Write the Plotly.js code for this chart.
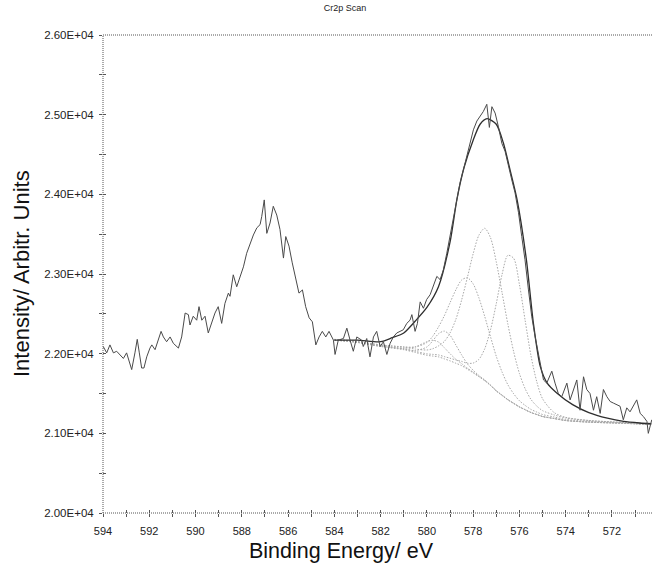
<!DOCTYPE html>
<html>
<head>
<meta charset="utf-8">
<script src="https://cdn.plot.ly/plotly-3.0.1.min.js"></script>
<style>html,body{margin:0;padding:0;background:#fff;}#chart{width:652px;height:567px;}</style>
</head>
<body>
<div id="chart"></div>
<script>
// Raw Cr2p spectrum (binding energy eV, counts)
const rawE = [593.99,593.84,593.70,593.55,593.41,593.27,593.12,592.98,592.83,592.76,592.62,592.52,592.43,592.33,592.23,592.11,591.97,591.89,591.75,591.61,591.49,591.39,591.25,591.10,590.96,590.74,590.60,590.45,590.31,590.24,590.10,589.95,589.85,589.73,589.59,589.45,589.30,589.16,589.02,
588.87,588.73,588.58,588.51,588.37,588.22,588.08,587.93,587.79,587.64,587.50,587.35,587.21,587.14,587.03,586.92,586.78,586.64,586.49,586.35,586.20,586.10,585.96,585.82,585.67,585.53,585.38,585.24,585.09,584.95,584.80,584.66,584.52,584.37,584.23,584.04,
583.97,583.83,583.61,583.46,583.32,583.18,583.03,582.82,582.75,582.60,582.46,582.31,582.17,582.02,581.88,581.73,581.59,581.45,581.30,581.16,581.02,580.87,580.73,580.65,580.51,580.41,580.29,580.15,580.01,579.86,579.72,579.57,579.43,
579.29,579.14,579.00,578.85,578.71,578.57,578.42,578.28,578.13,577.99,577.84,577.70,577.56,577.41,577.30,577.19,577.05,576.91,576.76,576.62,576.48,576.33,576.19,576.04,575.90,575.76,575.61,575.47,575.32,575.18,575.03,
574.96,574.82,574.60,574.46,574.32,574.17,573.95,573.81,573.67,573.52,573.38,573.23,573.09,572.95,572.80,572.66,572.51,572.37,572.22,572.08,571.94,571.79,571.65,571.51,571.36,571.22,571.07,570.93,570.78,570.64,570.49,570.43,570.28];
const rawI = [22090,22010,22110,22010,22030,21990,21940,22010,21860,21800,22010,22180,22010,21820,21820,21960,22070,22110,22050,22170,22280,22210,22150,22210,22130,22070,22210,22510,22490,22360,22470,22420,22590,22420,22470,22260,22380,22510,22590,
22380,22630,22760,22720,22990,22840,22970,23090,23260,23390,23490,23580,23620,23720,23930,23510,23640,23850,23740,23560,23200,23470,23350,23140,22930,22760,22800,22590,22450,22400,22110,22210,22280,22210,22280,22170,
21990,22170,22190,22320,22170,22030,22210,22170,22090,22190,21960,22210,22280,22090,22150,21990,22130,22210,22260,22280,22300,22380,22420,22490,22280,22380,22650,22570,22680,22740,22860,22970,22930,
23050,23260,23470,23720,23930,24140,24310,24480,24640,24810,24920,24980,25040,25130,24840,25100,25020,24850,24640,24540,24350,24180,24020,23770,23470,23180,22800,22470,22210,22010,21800,
21670,21630,21780,21630,21500,21460,21630,21420,21550,21670,21290,21710,21550,21500,21290,21460,21250,21550,21460,21400,21380,21360,21340,21170,21320,21270,21340,21420,21250,21210,21150,21000,21170];

// Fit envelope
const envE = [584,583,582,581.5,581,580.5,580,579.5,579,578.7,578.4,578,577.7,577.4,577.0,576.7,576.4,576.1,575.7,575.4,575.1,574.8,574.4,573.7,573,572.2,571.5,570.8,570.3];
const envI = [22170,22170,22150,22200,22260,22410,22580,22840,23400,23940,24330,24680,24880,24950,24880,24650,24300,23930,23180,22390,21840,21630,21510,21360,21260,21190,21150,21130,21120];

// Fit components (grid shared)
const compE = [584,583,582,581,580.5,580,579.75,579.5,579.25,579,578.75,578.5,578.25,578,577.75,577.5,577.25,577,576.75,576.5,576.25,576,575.75,575.5,575.25,575,574.5,574,573,572,571,570.3];
const background = [22170,22140,22090,22050,22015,21980,21970,21960,21935,21910,21880,21850,21805,21760,21710,21660,21600,21530,21475,21420,21375,21330,21295,21260,21235,21210,21185,21160,21140,21130,21120,21110];
const peak1 = [22178,22152,22109,22086,22083,22140,22218,22335,22474,22639,22800,22924,22953,22876,22699,22467,22212,21966,21769,21610,21497,21409,21350,21300,21267,21236,21205,21175,21150,21137,21125,21115];
const peak2 = [22180,22153,22110,22081,22058,22046,22062,22097,22152,22260,22429,22672,22957,23254,23488,23574,23455,23150,22765,22370,22025,21751,21558,21425,21342,21285,21231,21193,21161,21144,21130,21118];
const peak3 = [22174,22146,22098,22061,22029,21998,21991,21984,21963,21943,21921,21903,21880,21882,21929,22062,22299,22629,22996,23235,23197,22868,22411,21973,21647,21434,21261,21201,21161,21143,21128,21117];
const peak4 = [22171,22142,22094,22059,22039,22084,22160,22249,22283,22231,22110,21985,21872,21792,21726,21670,21607,21536,21480,21424,21378,21333,21297,21262,21237,21212,21186,21161,21141,21131,21120,21110];
const peak5 = [22171,22142,22094,22069,22087,22150,22169,22146,22076,22000,21930,21875,21818,21768,21715,21664,21603,21533,21477,21422,21377,21332,21296,21261,21236,21211,21186,21161,21141,21131,21120,21110];

const yTickVals = [20000,21000,22000,23000,24000,25000,26000];
const yTickText = ["2.00E+04","2.10E+04","2.20E+04","2.30E+04","2.40E+04","2.50E+04","2.60E+04"];
const xTickVals = [594,592,590,588,586,584,582,580,578,576,574,572];

const compColor = '#a8a8a8';
const comps = [background, peak1, peak2, peak3, peak4, peak5];
const traces = comps.map(c => ({
  x: compE, y: c, type: 'scatter', mode: 'lines',
  line: {color: compColor, width: 1, dash: '1.5px,1.5px', shape: 'spline', smoothing: 0.8},
  hoverinfo: 'skip', showlegend: false
}));
traces.push({x: envE, y: envI, type: 'scatter', mode: 'lines',
  line: {color: '#2e2e2e', width: 1.3, shape: 'spline', smoothing: 0.7}, showlegend: false});
traces.push({x: rawE, y: rawI, type: 'scatter', mode: 'lines',
  line: {color: '#4a4a4a', width: 1}, showlegend: false});
traces.push({x: [], y: [], xaxis: 'x2', yaxis: 'y2', type: 'scatter', showlegend: false});

const tickFont = {family: 'Liberation Sans, Arial, sans-serif', size: 11.5, color: '#222'};
const axLine = {color: '#555', width: 1, dash: '1px,1px'};

const layout = {
  width: 652, height: 567,
  margin: {l: 103, r: 0, t: 35, b: 54},
  paper_bgcolor: '#fff', plot_bgcolor: '#fff',
  title: {text: 'Cr2p Scan', x: 345/652, xanchor: 'center', y: 1 - 8/567, yanchor: 'middle',
    font: {family: 'Liberation Sans, Arial, sans-serif', size: 9, color: '#222'}},
  xaxis: {range: [594, 570.27], tickvals: xTickVals, ticks: 'outside', ticklen: 3, tickcolor: '#555',
    ticklabelstandoff: 5,
    showgrid: false, zeroline: false, showline: false, tickfont: {...tickFont, size: 11},
    minor: {dtick: 1, tick0: 594, ticks: 'outside', ticklen: 3, tickcolor: '#555', showgrid: false}},
  yaxis: {range: [20000, 26000], tickvals: yTickVals, ticktext: yTickText, ticks: 'outside', ticklen: 3, tickcolor: '#555',
    ticklabelstandoff: 3,
    showgrid: false, zeroline: false, showline: false, tickfont: tickFont,
    minor: {dtick: 500, tick0: 20000, ticks: 'outside', ticklen: 3, tickcolor: '#555', showgrid: false}},
  xaxis2: {overlaying: 'x', matches: 'x', range: [594, 570.27], tickvals: xTickVals, ticks: 'inside', ticklen: 3, tickcolor: '#555',
    showticklabels: false, showgrid: false, zeroline: false, showline: false,
    minor: {dtick: 1, tick0: 594, ticks: 'inside', ticklen: 3, tickcolor: '#555', showgrid: false}},
  yaxis2: {overlaying: 'y', matches: 'y', range: [20000, 26000], tickvals: yTickVals, ticks: 'inside', ticklen: 3, tickcolor: '#555',
    showticklabels: false, showgrid: false, zeroline: false, showline: false,
    minor: {dtick: 500, tick0: 20000, ticks: 'inside', ticklen: 3, tickcolor: '#555', showgrid: false}},
  shapes: [
    {type: 'line', xref: 'paper', yref: 'paper', x0: 0, x1: 0, y0: 0, y1: 1, line: axLine},
    {type: 'line', xref: 'paper', yref: 'paper', x0: 0, x1: 1, y0: 0, y1: 0, line: axLine},
    {type: 'line', xref: 'paper', yref: 'paper', x0: 0, x1: 1, y0: 1, y1: 1, line: axLine}
  ],
  annotations: [
    {text: 'Intensity/ Arbitr. Units', xref: 'paper', yref: 'paper', x: (21 - 103)/549, y: 0.5,
      xanchor: 'center', yanchor: 'middle', textangle: -90, showarrow: false,
      font: {family: 'Liberation Sans, Arial, sans-serif', size: 22, color: '#111'}},
    {text: 'Binding Energy/ eV', xref: 'paper', yref: 'paper', x: (341 - 103)/549, y: -(551 - 513)/478,
      xanchor: 'center', yanchor: 'middle', showarrow: false,
      font: {family: 'Liberation Sans, Arial, sans-serif', size: 21.5, color: '#111'}}
  ]
};

Plotly.newPlot('chart', traces, layout, {displayModeBar: false, staticPlot: true});
</script>
</body>
</html>
